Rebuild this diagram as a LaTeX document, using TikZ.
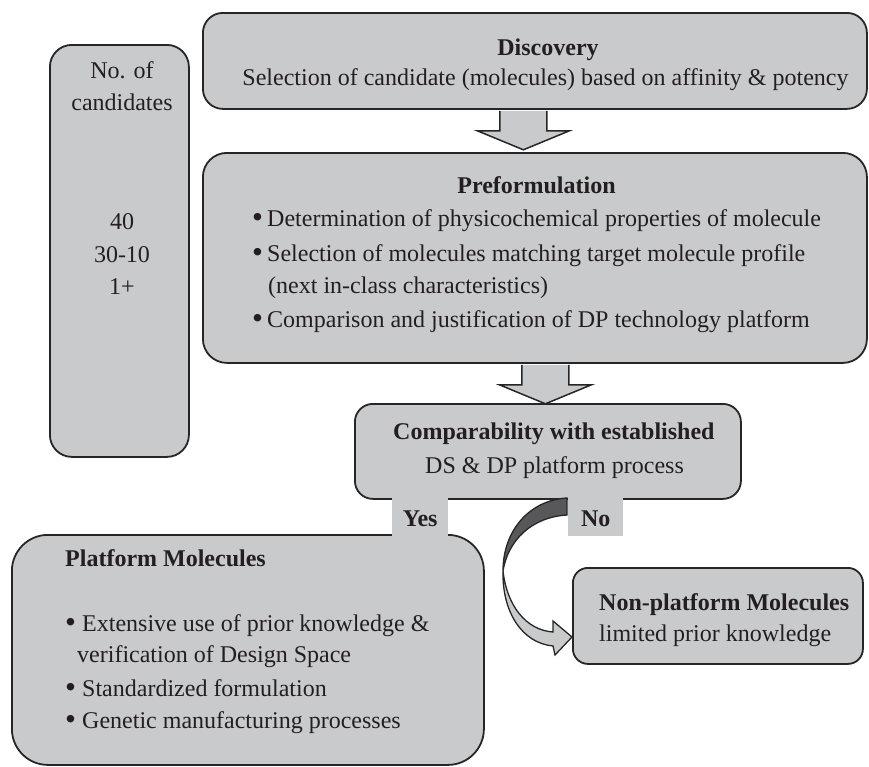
\documentclass[tikz,border=0pt]{standalone}
\usepackage{fontspec}
\setmainfont{Liberation Serif}
\usetikzlibrary{calc}

\definecolor{boxfill}{RGB}{201,202,204}
\definecolor{edge}{RGB}{38,38,38}
\definecolor{ink}{RGB}{35,31,32}
\definecolor{backface}{RGB}{88,88,90}

% list mark: a slightly enlarged bullet in a fixed-width slot
\newcommand{\itemdot}[1]{\makebox[#1][l]{\raisebox{-0.07em}{\scalebox{1.3}{•}}}}

\begin{document}
\begin{tikzpicture}[x=1pt,y=-1pt,
  panel/.style={draw=edge, line width=1.8pt, fill=boxfill, rounded corners=#1,
                inner sep=0pt, anchor=north west},
  tab/.style={fill=boxfill, draw=none, inner sep=0pt, anchor=north west},
  txt/.style={font=\fontsize{24}{29}\selectfont, text=ink, inner sep=0pt, anchor=base west},
  ctxt/.style={txt, anchor=base},
  head/.style={txt, font=\fontsize{24}{29}\selectfont\bfseries},
  chead/.style={head, anchor=base},
  arrowline/.style={draw=edge, line width=1.5pt, fill=boxfill, line join=miter},
  pics/blockdown/.style={code={
    \filldraw[arrowline] (-23.5,1) -- (-23.5,21) -- (-46,21) -- (0,40)
                         -- (46,21) -- (23.5,21) -- (23.5,1);}}
]
\useasboundingbox (0,0) rectangle (869,766);

% boxes
\node[panel=22pt, minimum width=139pt, minimum height=412pt] (cand) at (49,44) {};
\node[panel=20pt, minimum width=664pt, minimum height=96pt]  (disc) at (202,12) {};
\node[panel=24pt, minimum width=664pt, minimum height=210pt] (pref) at (202,152) {};
\node[panel=18pt, minimum width=386pt, minimum height=95pt]  (comp) at (354,403) {};
\node[panel=36pt, minimum width=472pt, minimum height=230pt] (plat) at (11,534) {};
\node[panel=15pt, minimum width=290pt, minimum height=96pt]  (nonp) at (572,567) {};

% block arrows between the stages
\pic at ($(disc.south)+(-11.5,0)$) {blockdown};
\pic at ($(pref.south)+(10.5,0)$) {blockdown};

% twisted curved arrow towards the non-platform box
\coordinate (tw) at (503,571);
\filldraw[draw=edge, line width=1.3pt, fill=backface]
  (567,498) .. controls (530,500) and (503,530) .. (tw)
  .. controls (508,540) and (532,517) .. (567,515) -- cycle;
\filldraw[draw=edge, line width=1.3pt, fill=boxfill, line join=miter]
  (tw) .. controls (502,612) and (522,643) .. (553,646)
  -- (555,655) -- (nonp.west |- 0,637) -- (553,621) -- (553,632)
  .. controls (526,630) and (507,606) .. (tw) -- cycle;

% Yes / No tabs
\node[tab, minimum width=56pt, minimum height=40pt] (yes) at (392,496.5) {};
\node[tab, minimum width=55pt, minimum height=39pt] (no)  at (568,496.5) {};

% left column
\node[ctxt] (c1) at (122,78)  {No. of};
\node[ctxt] (c2) at (122,110) {candidates};
\node[ctxt] (c3) at (122,229) {40};
\node[ctxt] (c4) at (122,262) {30-10};
\node[ctxt] (c5) at (122,294) {1+};

% discovery
\node[chead] (d1) at (548,55) {Discovery};
\node[ctxt]  (d2) at (545.5,85) {Selection of candidate (molecules) based on affinity \& potency};

% preformulation
\node[chead] (p0) at (536.5,193) {Preformulation};
\node[txt] (p1) at (252,226) {\itemdot{15pt}Determination of physicochemical properties of molecule};
\node[txt] (p2) at (252,261) {\itemdot{15pt}Selection of molecules matching target molecule profile};
\node[txt] (p3) at (268,293) {(next in-class characteristics)};
\node[txt] (p4) at (252,327) {\itemdot{15pt}Comparison and justification of DP technology platform};

% comparability decision
\node[head] (k1) at (393,439) {Comparability with established};
\node[txt]  (k2) at (425,473) {DS \& DP platform process};
\node[chead] (yl) at (yes.center |- 0,526) {Yes};
\node[chead] (nl) at (no.center |- 0,526) {No};

% platform molecules
\node[head] (m0) at (65,566) {Platform Molecules};
\node[txt] (m1) at (65,631) {\itemdot{17pt}Extensive use of prior knowledge \&};
\node[txt] (m2) at (77,662) {verification of Design Space};
\node[txt] (m3) at (65,696) {\itemdot{17pt}Standardized formulation};
\node[txt] (m4) at (65,728) {\itemdot{17pt}Genetic manufacturing processes};

% non-platform molecules
\node[head] (n1) at (599,610) {Non-platform Molecules};
\node[txt]  (n2) at (599,641) {limited prior knowledge};
\end{tikzpicture}
\end{document}
